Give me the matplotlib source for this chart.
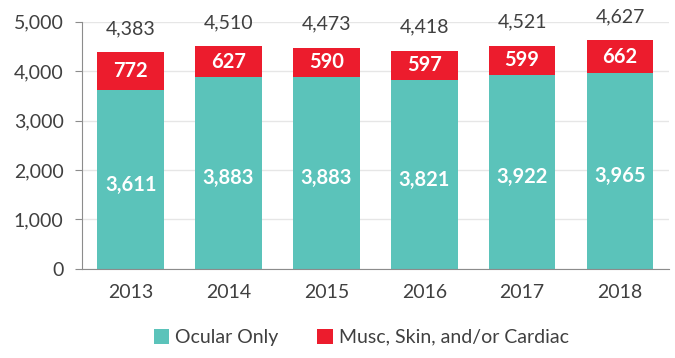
import matplotlib.pyplot as plt
import numpy as np

years = ['2013', '2014', '2015', '2016', '2017', '2018']
ocular = [3611, 3883, 3883, 3821, 3922, 3965]
musc = [772, 627, 590, 597, 599, 662]
totals = [4383, 4510, 4473, 4418, 4521, 4627]

teal = '#5BC3BA'
red = '#EC1C2D'
grey = '#404040'

plt.rcParams['font.family'] = ['Lato', 'DejaVu Sans']

fig = plt.figure(figsize=(6.75, 3.58), dpi=100)
ax = fig.add_axes([0.121, 0.249, 0.870, 0.690])

x = np.arange(len(years))
w = 0.68
b1 = ax.bar(x, ocular, w, color=teal, label='Ocular Only')
b2 = ax.bar(x, musc, w, bottom=ocular, color=red, label='Musc, Skin, and/or Cardiac')

for i in range(len(years)):
    ax.text(x[i], ocular[i] / 2 - 110, f'{ocular[i]:,}', ha='center', va='center',
            color='white', fontsize=14.5, fontweight='bold')
    ax.text(x[i], ocular[i] + musc[i] / 2, f'{musc[i]:,}', ha='center', va='center',
            color='white', fontsize=14.5, fontweight='bold')
    ax.annotate(f'{totals[i]:,}', (x[i], totals[i]), xytext=(0, 17),
                textcoords='offset points', ha='center', va='center',
                color=grey, fontsize=14)

ax.set_ylim(0, 5000)
ax.set_xlim(-0.5, len(years) - 0.5)
ax.set_yticks(range(0, 5001, 1000))
ax.set_yticklabels([f'{v:,}' for v in range(0, 5001, 1000)])
ax.set_xticks(x)
ax.set_xticklabels(years)
ax.yaxis.grid(True, color='#E6E6E6', linewidth=1)
ax.set_axisbelow(True)
for s in ['top', 'right']:
    ax.spines[s].set_visible(False)
for s in ['left', 'bottom']:
    ax.spines[s].set_color('#8C8C8C')
ax.tick_params(axis='y', colors='#8C8C8C', labelcolor=grey, labelsize=14, length=5, pad=8)
ax.tick_params(axis='x', length=0, labelcolor=grey, labelsize=14, pad=11)

fig.legend(handles=[b1, b2], loc='lower center', bbox_to_anchor=(0.535, -0.015), ncol=2,
           frameon=False, fontsize=14, handlelength=0.8, handleheight=0.8,
           handletextpad=0.3, columnspacing=2.0, labelcolor=grey)

fig.savefig('out.png', dpi=100)
